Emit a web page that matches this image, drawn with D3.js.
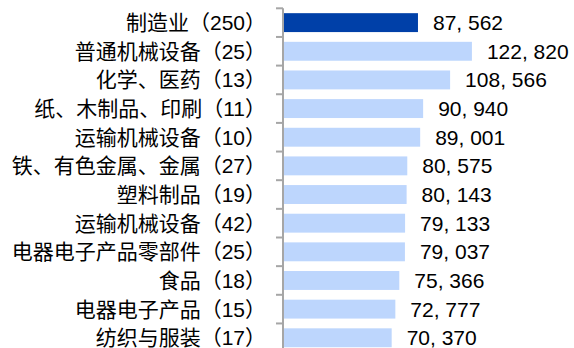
<!DOCTYPE html>
<html>
<head>
<meta charset="utf-8">
<script src="https://cdn.jsdelivr.net/npm/d3@7"></script>
<style>
  html, body { margin: 0; padding: 0; background: #fff; }
  svg { display: block; }
</style>
</head>
<body>
<svg id="chart" width="574" height="348"></svg>
<script>
// Industry categories (sample size in brackets) and their values
const categories = [
  "制造业（250）",
  "普通机械设备（25）",
  "化学、医药（13）",
  "纸、木制品、印刷（11）",
  "运输机械设备（10）",
  "铁、有色金属、金属（27）",
  "塑料制品（19）",
  "运输机械设备（42）",
  "电器电子产品零部件（25）",
  "食品（18）",
  "电器电子产品（15）",
  "纺织与服装（17）"
];
const values = [87562, 122820, 108566, 90940, 89001, 80575, 80143, 79133, 79037, 75366, 72777, 70370];
// The first row is the manufacturing total and is highlighted
const highlight = [true, false, false, false, false, false, false, false, false, false, false, false];

const svg = d3.select("#chart");

const x = d3.scaleLinear().domain([0, 180000]).range([284, 284 + 180000 * 0.00153]);
const y = d3.scaleBand().domain(categories).range([8.3, 352.1]).paddingInner(0.34).paddingOuter(0.17);

const fmt = v => d3.format(",")(v).replace(/,/g, ", ");

// bars
svg.append("g").selectAll("rect")
  .data(values)
  .join("rect")
  .attr("x", x(0))
  .attr("y", (d, i) => y(categories[i]))
  .attr("width", d => x(d) - x(0))
  .attr("height", y.bandwidth())
  .attr("fill", (d, i) => highlight[i] ? "#0040A8" : "#BDD6FD");

// category axis with ticks on band boundaries
const axisX = 283;
const axisG = svg.append("g");
const bounds = d3.range(categories.length + 1).map(i => 8.3 + i * (352.1 - 8.3) / categories.length);
axisG.append("line")
  .attr("x1", axisX).attr("x2", axisX)
  .attr("y1", bounds[0]).attr("y2", 348)
  .attr("stroke", "#A6A6A6").attr("stroke-width", 2);
axisG.selectAll("line.tick")
  .data(bounds)
  .join("line")
  .attr("class", "tick")
  .attr("x1", axisX - 7).attr("x2", axisX)
  .attr("y1", d => d).attr("y2", d => d)
  .attr("stroke", "#A6A6A6").attr("stroke-width", 2);

// category labels
svg.append("g").selectAll("text")
  .data(categories)
  .join("text")
  .attr("x", 266)
  .attr("y", d => y(d) + y.bandwidth() / 2)
  .attr("text-anchor", "end")
  .attr("dominant-baseline", "central")
  .style("font-family", "'Liberation Sans', 'Noto Sans CJK SC', sans-serif")
  .style("font-size", "21px")
  .attr("fill", "#000")
  .text(d => d);

// value labels
svg.append("g").selectAll("text")
  .data(values)
  .join("text")
  .attr("x", d => x(d) + 15)
  .attr("y", (d, i) => y(categories[i]) + y.bandwidth() / 2)
  .attr("dominant-baseline", "central")
  .style("font-family", "'Liberation Sans', Arial, sans-serif")
  .style("font-size", "21px")
  .attr("fill", "#000")
  .text(d => fmt(d));
</script>
</body>
</html>
